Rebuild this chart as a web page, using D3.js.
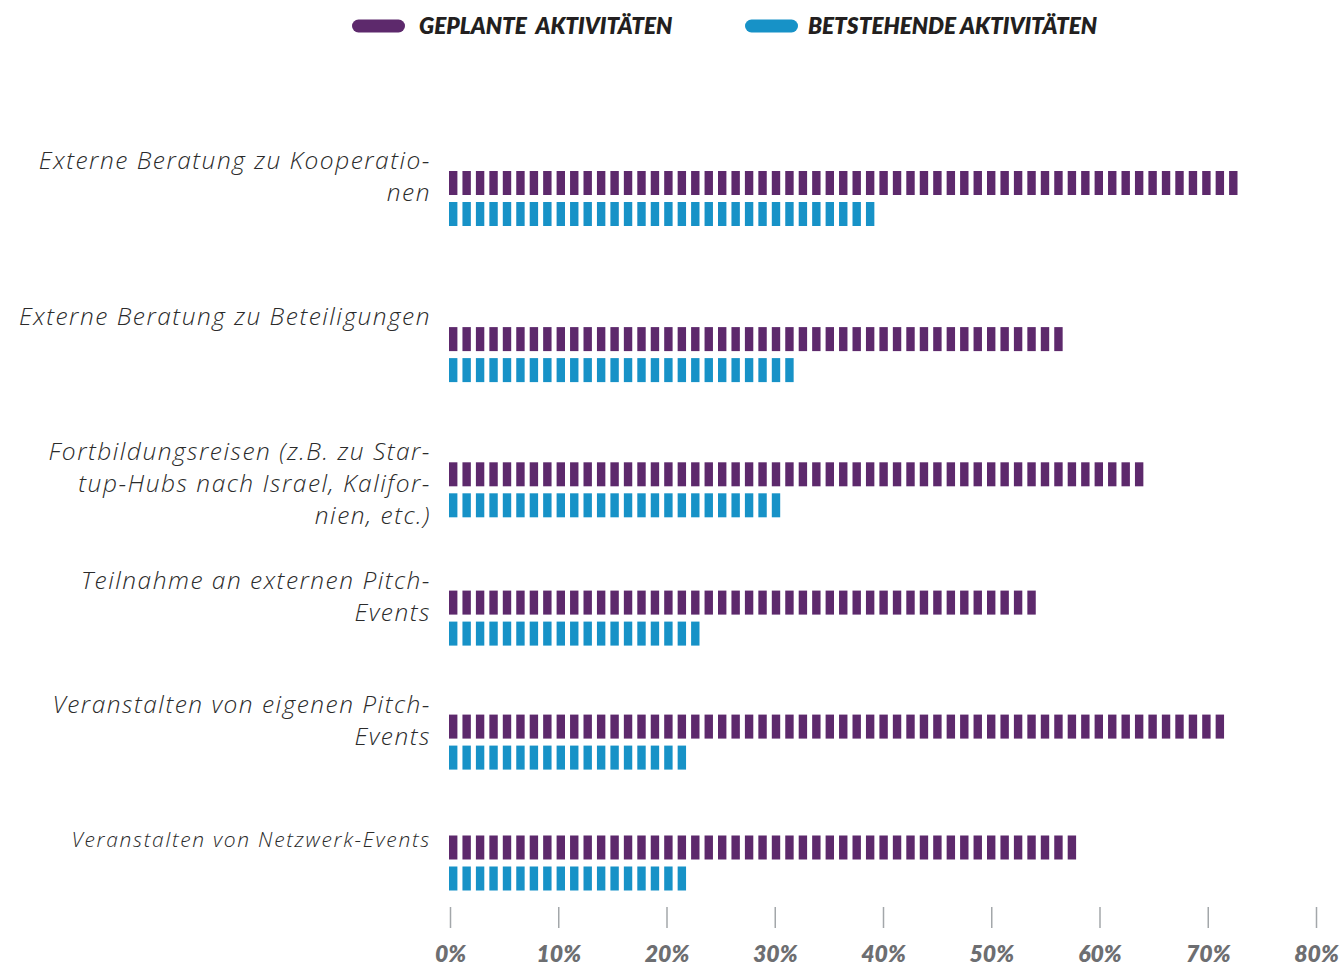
<!DOCTYPE html>
<html>
<head>
<meta charset="utf-8">
<script src="https://cdn.jsdelivr.net/npm/d3@7"></script>
<style>
  body { margin: 0; background: #fff; }
</style>
</head>
<body>
<script>
// categories (label lines as they wrap in the picture)
const categories = ["kooperationen", "beteiligungen", "fortbildung", "pitchExtern", "pitchEigen", "netzwerk"];
const labelLines = [
  ["Externe Beratung zu Kooperatio-", "nen"],
  ["Externe Beratung zu Beteiligungen"],
  ["Fortbildungsreisen (z.B. zu Star-", "tup-Hubs nach Israel, Kalifor-", "nien, etc.)"],
  ["Teilnahme an externen Pitch-", "Events"],
  ["Veranstalten von eigenen Pitch-", "Events"],
  ["Veranstalten von Netzwerk-Events"]
];

// series values in %
const geplant = [72.8, 57.0, 64.5, 54.3, 71.6, 57.6];
const bestehend = [39.1, 31.9, 30.1, 23.2, 22.1, 22.0];

const seriesNames = ["GEPLANTE  AKTIVITÄTEN", "BETSTEHENDE AKTIVITÄTEN"];
const ticks = [0, 10, 20, 30, 40, 50, 60, 70, 80];

const colors = ["#5d296c", "#1792c7"];

const w = 1344;
const h = 967;

const svg = d3.select("body").append("svg").attr("width", w).attr("height", h);

const x = d3.scaleLinear().domain([0, 80]).range([450, 1316]);
// rows get slightly closer towards the bottom in the original
const yIdx = d3.scalePow().exponent(0.9).domain([0, categories.length - 1]).range([198.5, 863]);
const y = (c) => yIdx(categories.indexOf(c));

// bars are drawn as a row of small blocks
const barH = 24;
const segW = 8.4;
const pitch = 13.45;

const drawBar = (g, value, top, fill) => {
  const n = Math.round((x(value) - x(0) + (pitch - segW)) / pitch);
  g.selectAll(null)
    .data(d3.range(n))
    .enter()
    .append("rect")
    .attr("x", (k) => x(0) - 1 + k * pitch)
    .attr("y", top)
    .attr("width", segW)
    .attr("height", barH)
    .attr("fill", fill);
};

categories.forEach((c, i) => {
  const g = svg.append("g");
  drawBar(g, geplant[i], y(c) - 27.5, colors[0]);
  drawBar(g, bestehend[i], y(c) + 3.5, colors[1]);

  const last = i === categories.length - 1;
  const t = svg.append("text")
    .attr("text-anchor", "end")
    .style("font-family", "'Open Sans', sans-serif")
    .style("font-style", "italic")
    .style("font-weight", 300)
    .style("font-size", (last ? 21 : 24.5) + "px")
    .style("letter-spacing", (last ? 1.7 : 1.5) + "px")
    .attr("fill", "#2b2b2b");
  labelLines[i].forEach((line, j) => {
    t.append("tspan")
      .attr("x", 431)
      .attr("y", y(c) - (last ? 23 : 38) + j * 32)
      .attr("dy", "0.35em")
      .text(line);
  });
});

// axis: ticks only, no domain line
const axis = svg.append("g").attr("transform", "translate(0,907)")
  .call(d3.axisBottom(x).tickValues(ticks).tickSize(21).tickFormat((d) => d + "%"));
axis.select(".domain").remove();
axis.selectAll(".tick line").attr("stroke", "#a3a7aa").attr("stroke-width", 1.5);
axis.selectAll(".tick text")
  .attr("y", 47)
  .attr("dy", "0.35em")
  .attr("fill", "#6d6e71")
  .style("font-size", "23px")
  .style("font-weight", 800)
  .style("font-style", "italic")
  .style("font-family", "Lato, sans-serif");

// legend
const legendX = [352, 745];
const legendTextX = [419, 808];
seriesNames.forEach((name, i) => {
  svg.append("rect")
    .attr("x", legendX[i])
    .attr("y", 19.5)
    .attr("width", 53)
    .attr("height", 13)
    .attr("rx", 6.5)
    .attr("fill", colors[i]);
  svg.append("text")
    .attr("x", legendTextX[i])
    .attr("y", 26)
    .attr("dy", "0.35em")
    .style("font-size", "22.5px")
    .style("font-weight", 800)
    .style("font-style", "italic")
    .style("font-family", "Lato, sans-serif")
    .attr("fill", "#231f20")
    .style("white-space", "pre")
    .text(name);
});
</script>
</body>
</html>
